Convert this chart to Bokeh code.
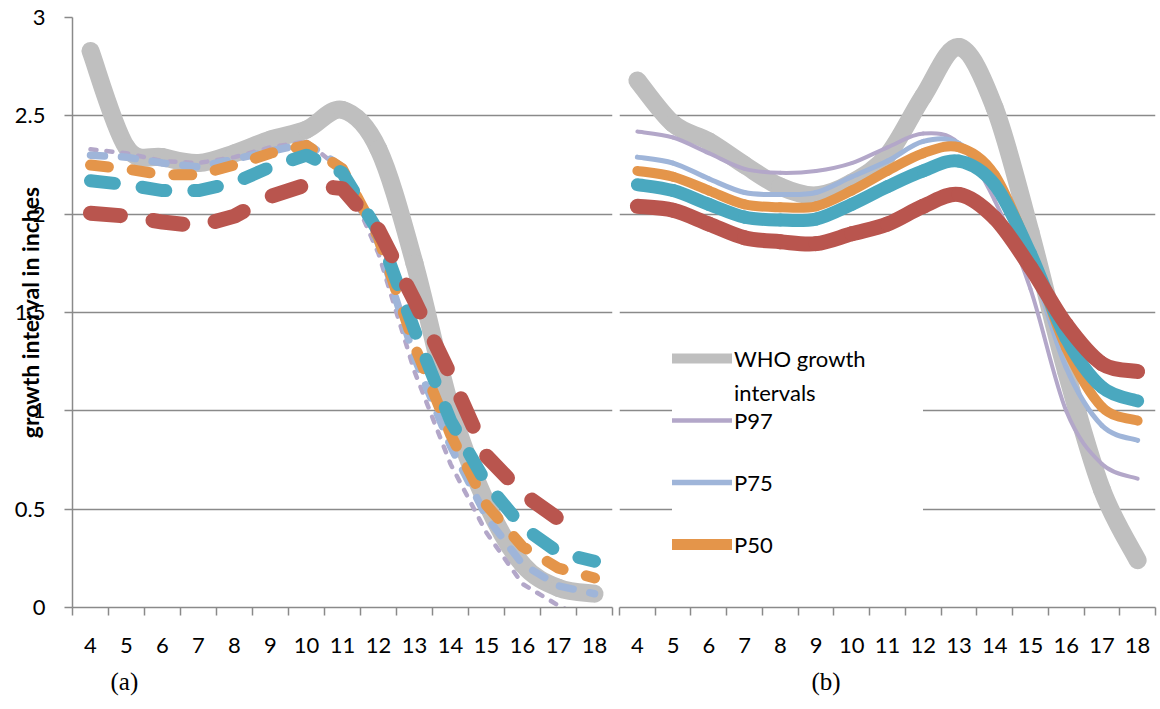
import math
from bokeh.plotting import figure
from bokeh.models import Range1d, FixedTicker, Legend, LegendItem, Title
from bokeh.layouts import row
from bokeh.embed import file_html
from bokeh.resources import INLINE

# ---------------- data ----------------
ages = [4, 5, 6, 7, 8, 9, 10, 11, 12, 13, 14, 15, 16, 17, 18]
y_ticks = [0, 0.5, 1, 1.5, 2, 2.5, 3]
y_tick_labels = ["0", "0.5", "1", "1.5", "2", "2.5", "3"]
NaN = float("nan")

# panel (a)
who_a = [2.83, 2.34, 2.29, 2.26, 2.31, 2.38, 2.43, 2.53, 2.33, 1.75, 1.02, 0.53, 0.22, 0.10, 0.07]
p97_a = [2.33, 2.31, 2.27, 2.26, 2.29, 2.34, 2.37, 2.22, 1.80, 1.20, 0.73, 0.38, 0.12, 0.01, -0.08]
p75_a = [2.30, 2.29, 2.26, 2.24, 2.28, 2.32, 2.36, 2.24, 1.85, 1.27, 0.82, 0.46, 0.22, 0.11, 0.07]
p50_a = [2.25, 2.23, 2.20, 2.20, 2.25, 2.31, 2.35, 2.23, 1.88, 1.33, 0.88, 0.52, 0.31, 0.20, 0.15]
p25_a = [2.17, 2.15, 2.12, 2.12, 2.16, 2.24, 2.30, 2.21, 1.91, 1.41, 0.95, 0.63, 0.41, 0.28, 0.235]
p3_a = [2.005, 1.99, 1.96, 1.94, 1.99, 2.09, 2.15, 2.13, 1.92, 1.56, 1.18, 0.77, 0.58, 0.45, NaN]

# panel (b)
who_b = [2.68, 2.46, 2.37, 2.25, 2.14, 2.095, 2.16, 2.30, 2.60, 2.85, 2.54, 1.91, 1.20, 0.60, 0.24]
p97_b = [2.42, 2.39, 2.31, 2.23, 2.21, 2.22, 2.26, 2.34, 2.41, 2.36, 2.07, 1.62, 1.00, 0.73, 0.655]
p75_b = [2.29, 2.26, 2.18, 2.11, 2.10, 2.11, 2.19, 2.27, 2.37, 2.36, 2.17, 1.76, 1.22, 0.925, 0.85]
p50_b = [2.22, 2.19, 2.12, 2.05, 2.035, 2.04, 2.12, 2.22, 2.31, 2.34, 2.20, 1.80, 1.32, 1.02, 0.95]
p25_b = [2.15, 2.12, 2.05, 1.985, 1.97, 1.975, 2.05, 2.14, 2.22, 2.27, 2.15, 1.80, 1.37, 1.12, 1.05]
p3_b = [2.04, 2.02, 1.95, 1.88, 1.86, 1.85, 1.90, 1.95, 2.04, 2.10, 1.98, 1.73, 1.44, 1.24, 1.20]

legend_who = ["WHO growth", "intervals"]   # wrapped label, two lines
legend_rest = ["P97", "P75", "P50"]

# ---------------- styles ----------------
GREY = "#BFBFBF"
PURPLE = "#B3A7C9"
LBLUE = "#9FB5D9"
ORANGE = "#E4954A"
TEAL = "#4AA8BF"
RED = "#B9554E"
AXIS = "#8A8A8A"
FONT = "Lato"

H = 709
boundaries = [a - 0.5 for a in ages] + [ages[-1] + 0.5]


def style(p, show_y):
    p.x_range = Range1d(ages[0] - 0.5, ages[-1] + 0.5)
    p.y_range = Range1d(0, 3)
    p.outline_line_color = None
    p.background_fill_color = "white"
    p.border_fill_color = "white"
    p.xgrid.visible = False
    yt = FixedTicker(ticks=y_ticks)
    p.yaxis.ticker = yt
    p.ygrid.ticker = yt
    p.ygrid.grid_line_color = AXIS
    p.ygrid.grid_line_width = 1.5
    xa = p.xaxis[0]
    xa.ticker = FixedTicker(ticks=ages, minor_ticks=boundaries)
    xa.major_label_overrides = {a: str(a) for a in ages}
    xa.axis_line_color = AXIS
    xa.axis_line_width = 1.5
    xa.major_tick_out = 0
    xa.major_tick_in = 0
    xa.minor_tick_out = 8
    xa.minor_tick_in = 0
    xa.minor_tick_line_color = AXIS
    xa.minor_tick_line_width = 1.5
    xa.major_label_standoff = 22
    xa.major_label_text_font = FONT
    xa.major_label_text_font_size = "22px"
    xa.major_label_text_color = "black"
    ya = p.yaxis[0]
    if show_y:
        ya.major_label_overrides = dict(zip(y_ticks, y_tick_labels))
        ya.axis_line_color = AXIS
        ya.axis_line_width = 1.5
        ya.major_tick_out = 8
        ya.major_tick_in = 0
        ya.major_tick_line_color = AXIS
        ya.major_tick_line_width = 1.5
        ya.minor_tick_line_color = None
        ya.major_label_standoff = 19
        ya.major_label_text_font = FONT
        ya.major_label_text_font_size = "22px"
        ya.major_label_text_color = "black"
        ya.axis_label = "growth interval in inches"
        ya.axis_label_text_font = FONT
        ya.axis_label_text_font_style = "bold"
        ya.axis_label_text_font_size = "23px"
        ya.axis_label_text_color = "black"
        ya.axis_label_standoff = -32
    else:
        ya.visible = False


def smooth(p, xs, ys, color, width):
    """Excel-style smoothed line: one cubic Bezier per pair of neighbouring points."""
    n = len(xs)
    x0, y0, x1, y1, cx0, cy0, cx1, cy1 = [], [], [], [], [], [], [], []
    for i in range(n - 1):
        a = i - 1 if i > 0 else i
        d = i + 2 if i + 2 < n else i + 1
        x0.append(xs[i]); y0.append(ys[i])
        x1.append(xs[i + 1]); y1.append(ys[i + 1])
        cx0.append(xs[i] + (xs[i + 1] - xs[a]) / 6.0)
        cy0.append(ys[i] + (ys[i + 1] - ys[a]) / 6.0)
        cx1.append(xs[i + 1] - (xs[d] - xs[i]) / 6.0)
        cy1.append(ys[i + 1] - (ys[d] - ys[i]) / 6.0)
    p.bezier(x0=x0, y0=y0, x1=x1, y1=y1, cx0=cx0, cy0=cy0, cx1=cx1, cy1=cy1,
             line_color=color, line_width=width, line_cap="round")


# ---------------- panel (a) ----------------
pa = figure(width=615, height=H, output_backend="svg", toolbar_location=None,
            min_border_left=72, min_border_right=3, min_border_top=17, min_border_bottom=102)
style(pa, True)

smooth(pa, ages, who_a, GREY, 18)
dashed = [
    (p97_a, PURPLE, 4.5, "6 10"),
    (p75_a, LBLUE, 7.5, "14 17"),
    (p50_a, ORANGE, 11, "18 24"),
    (p25_a, TEAL, 13, "24 28"),
    (p3_a, RED, 15, "30 33"),
]
for ys, col, w, dash in dashed:
    pa.line(ages, ys, line_color=col, line_width=w, line_dash=dash,
            line_cap="round", line_join="round")

pa.add_layout(Title(text="(a)", align="left", offset=38, standoff=20,
                    text_font="Liberation Serif", text_font_size="25px",
                    text_font_style="normal", text_color="black"), "below")

# ---------------- panel (b) ----------------
pb = figure(width=545, height=H, output_backend="svg", toolbar_location=None,
            min_border_left=4, min_border_right=5, min_border_top=17, min_border_bottom=102)
style(pb, False)

smooth(pb, ages, who_b, GREY, 18)
smooth(pb, ages, p97_b, PURPLE, 4)
smooth(pb, ages, p75_b, LBLUE, 5)
smooth(pb, ages, p50_b, ORANGE, 10)
smooth(pb, ages, p25_b, TEAL, 13)
smooth(pb, ages, p3_b, RED, 15)

# legend swatches (no visible data)
lg_who = pb.line([NaN], [NaN], line_color=GREY, line_width=10, line_cap="round")
lg_blank = pb.line([NaN], [NaN], line_color=GREY, line_alpha=0)
lg_97 = pb.line([NaN], [NaN], line_color=PURPLE, line_width=4.5, line_cap="round")
lg_75 = pb.line([NaN], [NaN], line_color=LBLUE, line_width=5.5, line_cap="round")
lg_50 = pb.line([NaN], [NaN], line_color=ORANGE, line_width=11, line_cap="round")

legend_b = Legend(items=[LegendItem(label=lab, renderers=[r])
                         for lab, r in zip(legend_rest, [lg_97, lg_75, lg_50])],
                  location=(53, 32), glyph_width=60, glyph_height=62,
                  spacing=0, padding=0, margin=0, label_standoff=2, label_width=189,
                  label_text_font=FONT, label_text_font_size="22px",
                  label_text_color="black", background_fill_color="white",
                  background_fill_alpha=1.0, border_line_color=None)
pb.add_layout(legend_b)

legend_a = Legend(items=[LegendItem(label=lab, renderers=[r])
                         for lab, r in zip(legend_who, [lg_who, lg_blank])],
                  location=(53, 198), glyph_width=60, glyph_height=34,
                  spacing=0, padding=0, margin=0, label_standoff=2,
                  label_text_font=FONT, label_text_font_size="22px",
                  label_text_color="black", background_fill_alpha=0.0,
                  border_line_color=None)
pb.add_layout(legend_a)

pb.add_layout(Title(text="(b)", align="left", offset=192, standoff=20,
                    text_font="Liberation Serif", text_font_size="25px",
                    text_font_style="normal", text_color="black"), "below")

layout = row(pa, pb)
open("out.html", "w").write(file_html(layout, INLINE))
